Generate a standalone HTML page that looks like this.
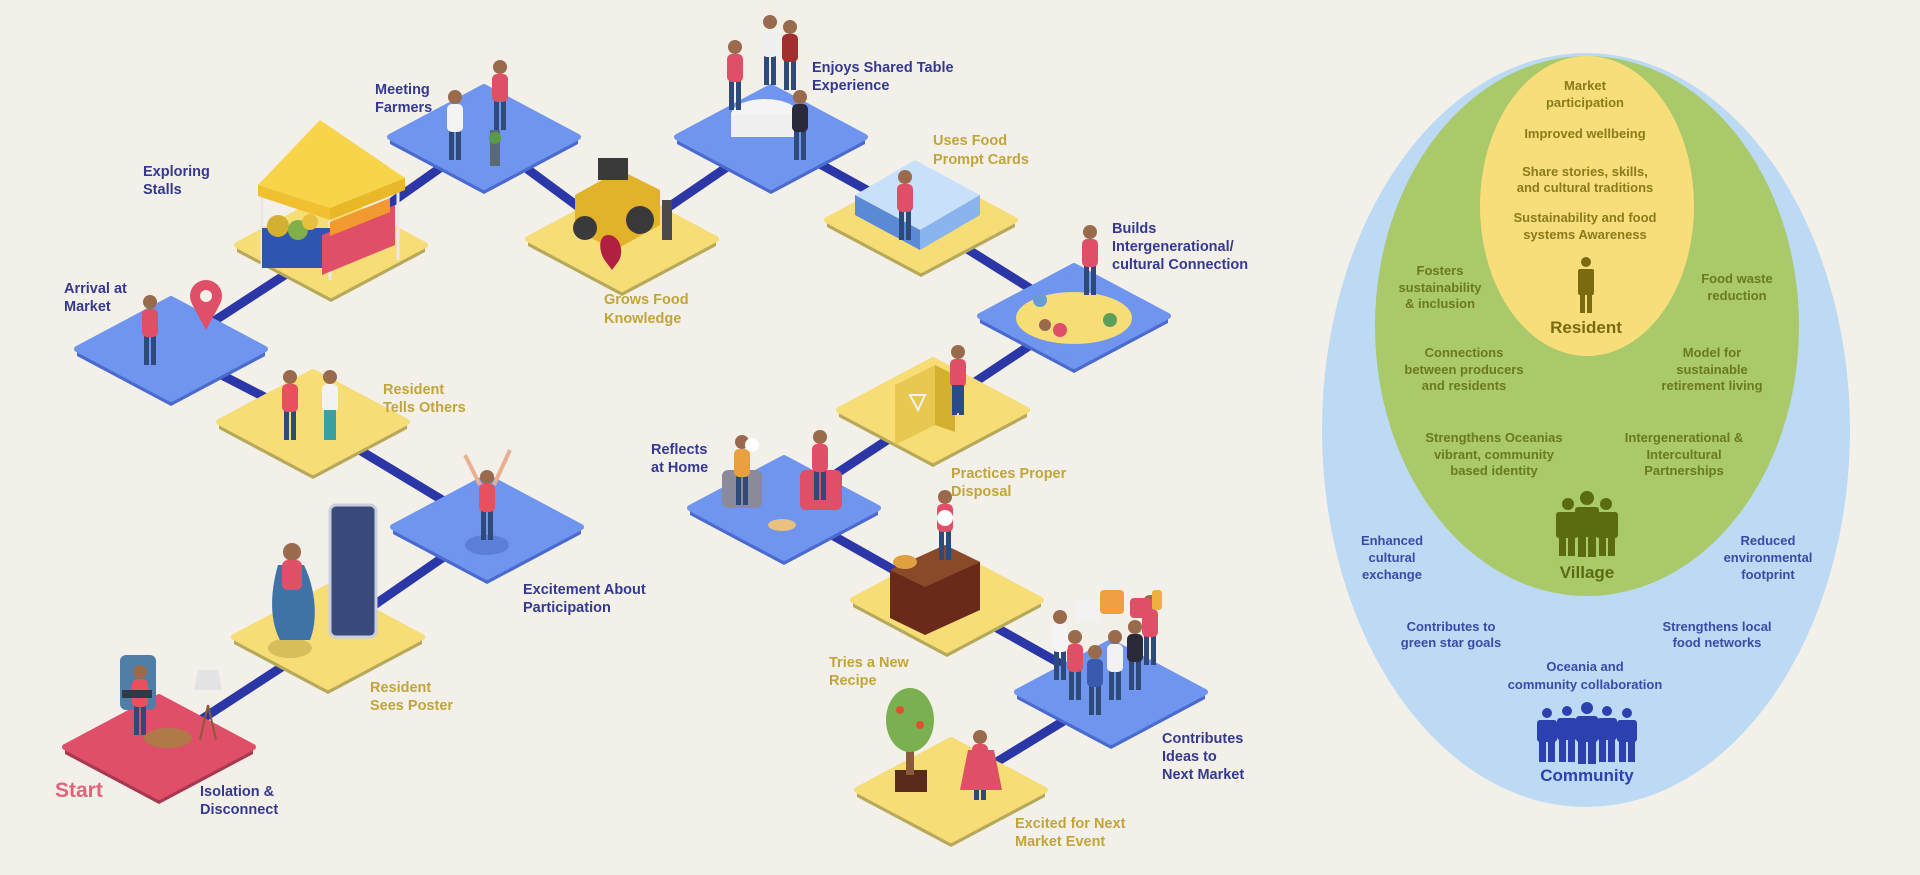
<!DOCTYPE html>
<html><head><meta charset="utf-8"><style>
html,body{margin:0;padding:0;background:#f2f0e9;}
svg{display:block}
.b{font-family:"Liberation Sans",sans-serif;font-weight:bold;font-size:14.5px;fill:#34398f}
.y{font-family:"Liberation Sans",sans-serif;font-weight:bold;font-size:14.5px;fill:#c2a53a}
.g{font-family:"Liberation Sans",sans-serif;font-weight:bold;font-size:13px;fill:#6b7a1c;text-anchor:middle}
.o{font-family:"Liberation Sans",sans-serif;font-weight:bold;font-size:13px;fill:#8a7a1a;text-anchor:middle}
.c{font-family:"Liberation Sans",sans-serif;font-weight:bold;font-size:13px;fill:#3a4aa8;text-anchor:middle}
</style></head><body>
<svg width="1920" height="875" viewBox="0 0 1920 875" xmlns="http://www.w3.org/2000/svg">
<defs>
<g id="p"><rect x="-6" y="-30" width="5" height="30" fill="#2e4a7a"/><rect x="1" y="-30" width="5" height="30" fill="#2e4a7a"/><rect x="-8" y="-56" width="16" height="28" rx="5" fill="currentColor"/><circle cx="0" cy="-63" r="7" fill="#9a6a4c"/></g>
</defs>
<rect width="1920" height="875" fill="#f2f0e9"/>
<polyline points="159,747 328,637 487,527 313,422 171,349 331,245 484,137 622,239 771,137 921,220 1074,316 933,410 784,508 947,600 1111,692 951,790" fill="none" stroke="#2b37a6" stroke-width="9" stroke-linejoin="round"/>
<g id="tiles">
<g transform="translate(159,747)"><path d="M-94,0 L0,-50 L94,0 L94,7 L0,57 L-94,7Z" fill="#a8384f"/><path d="M-94,0 L0,-50 L94,0 L0,50Z" fill="#e04f68" stroke="#e04f68" stroke-width="6" stroke-linejoin="round"/></g>
<g transform="translate(328,637)"><path d="M-94,0 L0,-50 L94,0 L94,7 L0,57 L-94,7Z" fill="#b7a95a"/><path d="M-94,0 L0,-50 L94,0 L0,50Z" fill="#f7dd76" stroke="#f7dd76" stroke-width="6" stroke-linejoin="round"/></g>
<g transform="translate(487,527)"><path d="M-94,0 L0,-50 L94,0 L94,7 L0,57 L-94,7Z" fill="#4a6ad0"/><path d="M-94,0 L0,-50 L94,0 L0,50Z" fill="#6f95ef" stroke="#6f95ef" stroke-width="6" stroke-linejoin="round"/></g>
<g transform="translate(313,422)"><path d="M-94,0 L0,-50 L94,0 L94,7 L0,57 L-94,7Z" fill="#b7a95a"/><path d="M-94,0 L0,-50 L94,0 L0,50Z" fill="#f7dd76" stroke="#f7dd76" stroke-width="6" stroke-linejoin="round"/></g>
<g transform="translate(171,349)"><path d="M-94,0 L0,-50 L94,0 L94,7 L0,57 L-94,7Z" fill="#4a6ad0"/><path d="M-94,0 L0,-50 L94,0 L0,50Z" fill="#6f95ef" stroke="#6f95ef" stroke-width="6" stroke-linejoin="round"/></g>
<g transform="translate(331,245)"><path d="M-94,0 L0,-50 L94,0 L94,7 L0,57 L-94,7Z" fill="#b7a95a"/><path d="M-94,0 L0,-50 L94,0 L0,50Z" fill="#f7dd76" stroke="#f7dd76" stroke-width="6" stroke-linejoin="round"/></g>
<g transform="translate(484,137)"><path d="M-94,0 L0,-50 L94,0 L94,7 L0,57 L-94,7Z" fill="#4a6ad0"/><path d="M-94,0 L0,-50 L94,0 L0,50Z" fill="#6f95ef" stroke="#6f95ef" stroke-width="6" stroke-linejoin="round"/></g>
<g transform="translate(622,239)"><path d="M-94,0 L0,-50 L94,0 L94,7 L0,57 L-94,7Z" fill="#b7a95a"/><path d="M-94,0 L0,-50 L94,0 L0,50Z" fill="#f7dd76" stroke="#f7dd76" stroke-width="6" stroke-linejoin="round"/></g>
<g transform="translate(771,137)"><path d="M-94,0 L0,-50 L94,0 L94,7 L0,57 L-94,7Z" fill="#4a6ad0"/><path d="M-94,0 L0,-50 L94,0 L0,50Z" fill="#6f95ef" stroke="#6f95ef" stroke-width="6" stroke-linejoin="round"/></g>
<g transform="translate(921,220)"><path d="M-94,0 L0,-50 L94,0 L94,7 L0,57 L-94,7Z" fill="#b7a95a"/><path d="M-94,0 L0,-50 L94,0 L0,50Z" fill="#f7dd76" stroke="#f7dd76" stroke-width="6" stroke-linejoin="round"/></g>
<g transform="translate(1074,316)"><path d="M-94,0 L0,-50 L94,0 L94,7 L0,57 L-94,7Z" fill="#4a6ad0"/><path d="M-94,0 L0,-50 L94,0 L0,50Z" fill="#6f95ef" stroke="#6f95ef" stroke-width="6" stroke-linejoin="round"/></g>
<g transform="translate(933,410)"><path d="M-94,0 L0,-50 L94,0 L94,7 L0,57 L-94,7Z" fill="#b7a95a"/><path d="M-94,0 L0,-50 L94,0 L0,50Z" fill="#f7dd76" stroke="#f7dd76" stroke-width="6" stroke-linejoin="round"/></g>
<g transform="translate(784,508)"><path d="M-94,0 L0,-50 L94,0 L94,7 L0,57 L-94,7Z" fill="#4a6ad0"/><path d="M-94,0 L0,-50 L94,0 L0,50Z" fill="#6f95ef" stroke="#6f95ef" stroke-width="6" stroke-linejoin="round"/></g>
<g transform="translate(947,600)"><path d="M-94,0 L0,-50 L94,0 L94,7 L0,57 L-94,7Z" fill="#b7a95a"/><path d="M-94,0 L0,-50 L94,0 L0,50Z" fill="#f7dd76" stroke="#f7dd76" stroke-width="6" stroke-linejoin="round"/></g>
<g transform="translate(1111,692)"><path d="M-94,0 L0,-50 L94,0 L94,7 L0,57 L-94,7Z" fill="#4a6ad0"/><path d="M-94,0 L0,-50 L94,0 L0,50Z" fill="#6f95ef" stroke="#6f95ef" stroke-width="6" stroke-linejoin="round"/></g>
<g transform="translate(951,790)"><path d="M-94,0 L0,-50 L94,0 L94,7 L0,57 L-94,7Z" fill="#b7a95a"/><path d="M-94,0 L0,-50 L94,0 L0,50Z" fill="#f7dd76" stroke="#f7dd76" stroke-width="6" stroke-linejoin="round"/></g>
</g>
<rect x="120" y="655" width="36" height="55" rx="6" fill="#4f7fa6"/>
<use href="#p" x="140" y="735" color="#e8505e"/>
<rect x="122" y="690" width="30" height="8" fill="#2e3a4a"/>
<ellipse cx="168" cy="738" rx="24" ry="10" fill="#b07a48"/>
<line x1="208" y1="705" x2="200" y2="740" stroke="#8a5a3a" stroke-width="2"/><line x1="208" y1="705" x2="216" y2="740" stroke="#8a5a3a" stroke-width="2"/>
<path d="M198,670 L218,670 L222,690 L194,690Z" fill="#e3e3e6"/>
<ellipse cx="290" cy="648" rx="22" ry="10" fill="#d7bd5c"/>
<rect x="330" y="505" width="46" height="132" rx="6" fill="#3a4a7a" stroke="#c8d0e0" stroke-width="3"/>
<path d="M278,565 C268,600 272,625 280,640 L310,640 C318,620 316,590 304,565Z" fill="#3f73a8"/>
<circle cx="292" cy="552" r="9" fill="#9a6a4c"/>
<rect x="282" y="560" width="20" height="30" rx="6" fill="#e04f68"/>
<ellipse cx="487" cy="545" rx="22" ry="10" fill="#5b7fd6"/>
<use href="#p" x="487" y="540" color="#e8505e"/>
<line x1="480" y1="485" x2="465" y2="455" stroke="#e8b090" stroke-width="4"/><line x1="494" y1="485" x2="510" y2="450" stroke="#e8b090" stroke-width="4"/>
<use href="#p" x="290" y="440" color="#e8505e"/><use href="#p" x="330" y="440" color="#f2f2f2"/>
<rect x="324" y="410" width="12" height="30" fill="#3aa0a0"/>
<use href="#p" x="150" y="365" color="#e04f68"/>
<circle cx="206" cy="296" r="16" fill="#e04f68"/><path d="M192,304 L206,330 L220,304Z" fill="#e04f68"/><circle cx="206" cy="296" r="6" fill="#f2f0e9"/>
<!-- stall -->
<line x1="262" y1="190" x2="262" y2="265" stroke="#e8e8e8" stroke-width="3"/>
<line x1="398" y1="185" x2="398" y2="260" stroke="#e8e8e8" stroke-width="3"/>
<line x1="330" y1="208" x2="330" y2="280" stroke="#e8e8e8" stroke-width="3"/>
<path d="M258,185 L320,120 L405,178 L330,208Z" fill="#f7d44a"/>
<path d="M258,185 L330,208 L330,220 L258,196Z" fill="#f0c030"/><path d="M330,208 L405,178 L405,190 L330,220Z" fill="#e8b828"/>
<rect x="262" y="228" width="68" height="40" fill="#2e55b0"/>
<path d="M322,235 L395,205 L395,245 L322,275Z" fill="#e04f68"/>
<circle cx="278" cy="226" r="11" fill="#d4b030"/><circle cx="298" cy="230" r="10" fill="#7fb04a"/><circle cx="310" cy="222" r="8" fill="#e8c040"/>
<path d="M330,222 L390,198 L390,212 L330,236Z" fill="#f09a30"/>
<use href="#p" x="455" y="160" color="#f4f4f4"/><use href="#p" x="500" y="130" color="#e04f68"/>
<rect x="490" y="130" width="10" height="36" fill="#5a6a70"/><circle cx="495" cy="138" r="6" fill="#5a9a4a"/>
<path d="M575,195 L620,170 L660,190 L660,225 L615,250 L575,230Z" fill="#e2b22a"/>
<rect x="598" y="158" width="30" height="22" fill="#3a3a3a"/>
<circle cx="585" cy="228" r="12" fill="#3a3a3a"/><circle cx="640" cy="220" r="14" fill="#3a3a3a"/>
<path d="M608,235 C620,235 625,252 618,262 L612,270 L606,262 C598,252 598,235 608,235Z" fill="#b02040"/>
<rect x="662" y="200" width="10" height="40" fill="#4a4a4a"/>
<ellipse cx="765" cy="115" rx="34" ry="16" fill="#f4f4f4"/><rect x="731" y="115" width="68" height="22" fill="#f0f0f0"/>
<use href="#p" x="735" y="110" color="#e04f68"/><use href="#p" x="770" y="85" color="#f0f0f0"/><use href="#p" x="800" y="160" color="#2a2a3a"/><use href="#p" x="790" y="90" color="#a03030"/>
<path d="M855,195 L915,160 L980,195 L920,230Z" fill="#c8e0fa"/>
<path d="M855,195 L920,230 L920,250 L855,215Z" fill="#5a8ad6"/><path d="M920,230 L980,195 L980,215 L920,250Z" fill="#8ab4ee"/>
<use href="#p" x="905" y="240" color="#e04f68"/>
<ellipse cx="1074" cy="318" rx="58" ry="26" fill="#f7dd76"/>
<use href="#p" x="1090" y="295" color="#e04f68"/>
<circle cx="1040" cy="300" r="7" fill="#6a9ad8"/><circle cx="1060" cy="330" r="7" fill="#e04f68"/><circle cx="1110" cy="320" r="7" fill="#5aa05a"/><circle cx="1045" cy="325" r="6" fill="#9a6a4c"/>
<path d="M895,385 L935,365 L935,425 L895,445Z" fill="#e8c850"/><path d="M935,365 L955,375 L955,432 L935,425Z" fill="#d4b030"/>
<use href="#p" x="958" y="415" color="#e04f68"/><rect x="952" y="385" width="12" height="28" fill="#2a4a8a"/>
<path d="M910,395 L925,395 L918,410Z" fill="none" stroke="#f2f2f2" stroke-width="2"/>
<rect x="722" y="470" width="40" height="38" rx="6" fill="#8a8a9a"/><rect x="800" y="470" width="42" height="40" rx="6" fill="#e04f68"/>
<use href="#p" x="742" y="505" color="#e8a040"/><use href="#p" x="820" y="500" color="#e04f68"/>
<ellipse cx="782" cy="525" rx="14" ry="6" fill="#e8c080"/>
<circle cx="752" cy="445" r="7" fill="#fff"/>
<path d="M890,570 L945,545 L980,562 L980,610 L925,635 L890,618Z" fill="#6a2a1a"/>
<path d="M890,570 L945,545 L980,562 L925,587Z" fill="#8a4a2a"/>
<ellipse cx="905" cy="562" rx="12" ry="7" fill="#e0a040"/>
<use href="#p" x="945" y="560" color="#e04f68"/><circle cx="945" cy="518" r="8" fill="#fff"/>
<g>
<use href="#p" x="1075" y="700" color="#e04f68"/><use href="#p" x="1095" y="715" color="#3a5ab0"/><use href="#p" x="1115" y="700" color="#f2f2f2"/><use href="#p" x="1135" y="690" color="#2a2a3a"/><use href="#p" x="1150" y="665" color="#e04f68"/><use href="#p" x="1060" y="680" color="#f4f4f4"/>
<rect x="1075" y="600" width="24" height="22" rx="4" fill="#f2f2f2"/><rect x="1100" y="590" width="24" height="24" rx="4" fill="#f0a040"/><rect x="1130" y="598" width="22" height="20" rx="4" fill="#e04f68"/><rect x="1152" y="590" width="10" height="20" rx="3" fill="#f0b040"/>
</g>
<rect x="895" y="770" width="32" height="22" fill="#5a2a1a"/><rect x="906" y="730" width="8" height="45" fill="#8a5a3a"/>
<ellipse cx="910" cy="720" rx="24" ry="32" fill="#7ab050"/>
<circle cx="900" cy="710" r="4" fill="#e05030"/><circle cx="920" cy="725" r="4" fill="#e05030"/>
<use href="#p" x="980" y="800" color="#e04f68"/><path d="M968,750 L994,750 L1002,790 L960,790Z" fill="#e04f68"/>
<text x="55" y="797" style="font-family:'Liberation Sans',sans-serif;font-weight:bold;font-size:21px;fill:#e0647a">Start</text>
<text class="b" x="200" y="796">Isolation &amp;</text><text class="b" x="200" y="814">Disconnect</text>
<text class="y" x="370" y="692">Resident</text><text class="y" x="370" y="710">Sees Poster</text>
<text class="b" x="523" y="594">Excitement About</text><text class="b" x="523" y="612">Participation</text>
<text class="y" x="383" y="394">Resident</text><text class="y" x="383" y="412">Tells Others</text>
<text class="b" x="64" y="293">Arrival at</text><text class="b" x="64" y="311">Market</text>
<text class="b" x="143" y="176">Exploring</text><text class="b" x="143" y="194">Stalls</text>
<text class="b" x="375" y="94">Meeting</text><text class="b" x="375" y="112">Farmers</text>
<text class="y" x="604" y="304">Grows Food</text><text class="y" x="604" y="323">Knowledge</text>
<text class="b" x="812" y="72">Enjoys Shared Table</text><text class="b" x="812" y="90">Experience</text>
<text class="y" x="933" y="145">Uses Food</text><text class="y" x="933" y="164">Prompt Cards</text>
<text class="b" x="1112" y="233">Builds</text><text class="b" x="1112" y="251">Intergenerational/</text><text class="b" x="1112" y="269">cultural Connection</text>
<text class="b" x="651" y="454">Reflects</text><text class="b" x="651" y="472">at Home</text>
<text class="y" x="951" y="478">Practices Proper</text><text class="y" x="951" y="496">Disposal</text>
<text class="y" x="829" y="667">Tries a New</text><text class="y" x="829" y="685">Recipe</text>
<text class="b" x="1162" y="743">Contributes</text><text class="b" x="1162" y="761">Ideas to</text><text class="b" x="1162" y="779">Next Market</text>
<text class="y" x="1015" y="828">Excited for Next</text><text class="y" x="1015" y="846">Market Event</text>
<ellipse cx="1586" cy="430" rx="264" ry="377" fill="#bcdaf3"/>
<ellipse cx="1587" cy="326" rx="212" ry="270" fill="#a9c96b"/>
<ellipse cx="1587" cy="206" rx="107" ry="150" fill="#f8de7b"/>
<text class="o" x="1585" y="90">Market</text><text class="o" x="1585" y="107">participation</text>
<text class="o" x="1585" y="138">Improved wellbeing</text>
<text class="o" x="1585" y="176">Share stories, skills,</text><text class="o" x="1585" y="192">and cultural traditions</text>
<text class="o" x="1585" y="222">Sustainability and food</text><text class="o" x="1585" y="239">systems Awareness</text>
<g fill="#7a6a10"><circle cx="1586" cy="262" r="5"/><rect x="1578" y="269" width="16" height="26" rx="2"/><rect x="1580" y="293" width="5" height="20"/><rect x="1587" y="293" width="5" height="20"/></g>
<text x="1586" y="333" style="font-family:'Liberation Sans',sans-serif;font-weight:bold;font-size:17px;fill:#7a6a10;text-anchor:middle">Resident</text>
<text class="g" x="1440" y="275">Fosters</text><text class="g" x="1440" y="292">sustainability</text><text class="g" x="1440" y="308">&amp; inclusion</text>
<text class="g" x="1737" y="283">Food waste</text><text class="g" x="1737" y="300">reduction</text>
<text class="g" x="1464" y="357">Connections</text><text class="g" x="1464" y="374">between producers</text><text class="g" x="1464" y="390">and residents</text>
<text class="g" x="1712" y="357">Model for</text><text class="g" x="1712" y="374">sustainable</text><text class="g" x="1712" y="390">retirement living</text>
<text class="g" x="1494" y="442">Strengthens Oceanias</text><text class="g" x="1494" y="459">vibrant, community</text><text class="g" x="1494" y="475">based identity</text>
<text class="g" x="1684" y="442">Intergenerational &amp;</text><text class="g" x="1684" y="459">Intercultural</text><text class="g" x="1684" y="475">Partnerships</text>
<g fill="#5b6b12">
<circle cx="1568" cy="504" r="6"/><rect x="1556" y="512" width="22" height="26" rx="3"/><rect x="1559" y="536" width="7" height="20"/><rect x="1568" y="536" width="7" height="20"/>
<circle cx="1606" cy="504" r="6"/><rect x="1596" y="512" width="22" height="26" rx="3"/><rect x="1599" y="536" width="7" height="20"/><rect x="1608" y="536" width="7" height="20"/>
<circle cx="1587" cy="498" r="7"/><rect x="1575" y="507" width="24" height="30" rx="3"/><rect x="1578" y="535" width="8" height="22"/><rect x="1588" y="535" width="8" height="22"/>
</g>
<text x="1587" y="578" style="font-family:'Liberation Sans',sans-serif;font-weight:bold;font-size:17px;fill:#5b6b12;text-anchor:middle">Village</text>
<text class="c" x="1392" y="545">Enhanced</text><text class="c" x="1392" y="562">cultural</text><text class="c" x="1392" y="579">exchange</text>
<text class="c" x="1768" y="545">Reduced</text><text class="c" x="1768" y="562">environmental</text><text class="c" x="1768" y="579">footprint</text>
<text class="c" x="1451" y="631">Contributes to</text><text class="c" x="1451" y="647">green star goals</text>
<text class="c" x="1717" y="631">Strengthens local</text><text class="c" x="1717" y="647">food networks</text>
<text class="c" x="1585" y="671">Oceania and</text><text class="c" x="1585" y="689">community collaboration</text>
<g fill="#2c40b0">
<circle cx="1547" cy="713" r="5"/><rect x="1537" y="720" width="20" height="22" rx="3"/><rect x="1539" y="740" width="7" height="22"/><rect x="1548" y="740" width="7" height="22"/>
<circle cx="1567" cy="711" r="5"/><rect x="1557" y="718" width="20" height="22" rx="3"/><rect x="1559" y="738" width="7" height="24"/><rect x="1568" y="738" width="7" height="24"/>
<circle cx="1607" cy="711" r="5"/><rect x="1597" y="718" width="20" height="22" rx="3"/><rect x="1599" y="738" width="7" height="24"/><rect x="1608" y="738" width="7" height="24"/>
<circle cx="1627" cy="713" r="5"/><rect x="1617" y="720" width="20" height="22" rx="3"/><rect x="1619" y="740" width="7" height="22"/><rect x="1628" y="740" width="7" height="22"/>
<circle cx="1587" cy="708" r="6"/><rect x="1576" y="716" width="22" height="26" rx="3"/><rect x="1578" y="740" width="8" height="24"/><rect x="1588" y="740" width="8" height="24"/>
</g>
<text x="1587" y="781" style="font-family:'Liberation Sans',sans-serif;font-weight:bold;font-size:17px;fill:#2c40b0;text-anchor:middle">Community</text>
</svg>
</body></html>
